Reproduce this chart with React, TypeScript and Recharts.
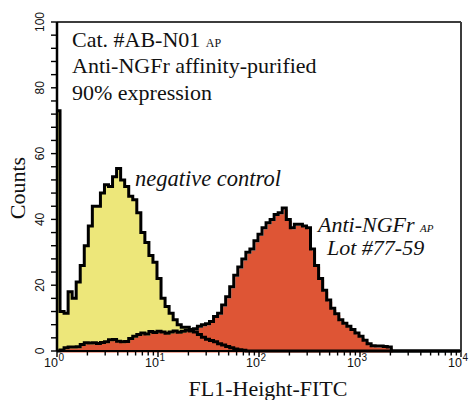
import React from 'react';
import {
  ComposedChart,
  Area,
  Line,
  XAxis,
  YAxis,
  ReferenceLine,
} from 'recharts';

// histogram bins: first bin at 10^0.03, one bin every 0.04 decade
const LOG_START = 0.03;
const LOG_STEP = 0.04;

// channel-1 pile-up of the negative control
const NEG_SPIKE = 73;

const NEG_COUNTS = [
  12, 11.5, 18, 16, 21, 26, 32, 38, 44, 44,
  48, 50.5, 50, 53, 55.5, 52, 50, 47, 46, 42,
  36, 33, 29, 27, 22, 16, 13.5, 11.5, 9.5, 8,
  7.2, 7.2, 6.5, 5.8, 5, 4.2, 3.6, 3.2, 2.8, 2.2,
  1.8, 1.4, 1, 0.6, 0.4, 0.2, 0, 0, 0, 0,
  0, 0, 0, 0, 0, 0, 0, 0, 0, 0,
  0, 0, 0, 0, 0, 0, 0, 0, 0, 0,
  0, 0, 0, 0, 0, 0, 0, 0, 0, 0,
  0, 0, 0, 0, 0, 0, 0, 0, 0, 0,
  0, 0, 0, 0, 0, 0, 0, 0, 0, 0,
];

const NGFR_COUNTS = [
  0.3, 1, 1.2, 1.2, 1.3, 2, 2.5, 2.4, 2.5, 2.3,
  2.6, 2.8, 3.4, 3.5, 3, 2.8, 2.9, 3.8, 4.5, 5,
  5.5, 5.2, 5.9, 5.6, 6, 5.8, 5.4, 5.8, 6.1, 5.7,
  6, 6.3, 6.1, 6.8, 7.5, 8, 8.3, 9, 10.5, 11.5,
  14, 16.5, 19.5, 23, 25.5, 28, 30, 31, 33.5, 35.5,
  37.5, 39, 40, 41.5, 42, 43.5, 40, 37.5, 38.5, 38.5,
  38, 37.5, 31, 26, 22, 18.5, 15.5, 13, 11.3, 9.5,
  8.4, 7.5, 6.5, 5.5, 4.5, 3.3, 2.2, 1.6, 1.5, 1.5,
  1.4, 1.2, 0, 0, 0, 0, 0, 0, 0, 0,
  0, 0, 0, 0, 0, 0, 0, 0, 0, 0,
];

const X_DECADES = [1, 10, 100, 1000, 10000];
const X_MINOR = [2, 3, 4, 5, 6, 7, 8, 9];
const Y_TICKS = [
  0, 4, 8, 12, 16, 20, 24, 28, 32, 36, 40, 44, 48, 52,
  56, 60, 64, 68, 72, 76, 80, 84, 88, 92, 96, 100,
];

const YELLOW = '#ede77a';
const ORANGE = '#de5535';
const SERIF = '"Liberation Serif", "Times New Roman", serif';
const SANS = '"Liberation Sans", Arial, sans-serif';

const data = [
  { x: 1, neg: NEG_SPIKE, ngfr: 0 },
  ...NEG_COUNTS.map((neg, i) => ({
    x: Math.pow(10, LOG_START + i * LOG_STEP),
    neg,
    ngfr: NGFR_COUNTS[i],
  })),
];

const xTicks = [
  ...X_DECADES,
  ...X_DECADES.slice(0, -1).flatMap((d) => X_MINOR.map((m) => m * d)),
].sort((a, b) => a - b);

function XTick({ x, y, payload }: any) {
  const exp = Math.log10(payload.value);
  const major = Math.abs(exp - Math.round(exp)) < 1e-6;
  return (
    <g>
      <line x1={x} x2={x} y1={y} y2={y + (major ? 6 : 4.5)} stroke="#000" strokeWidth={1.4} />
      {major && (
        <g fontFamily={SANS} fill="#111">
          <text x={x + 1} y={y + 16} fontSize={12.5} textAnchor="end">10</text>
          <text x={x + 1.5} y={y + 10} fontSize={10} textAnchor="start">{Math.round(exp)}</text>
        </g>
      )}
    </g>
  );
}

function YTick({ x, y, payload }: any) {
  const major = payload.value % 20 === 0;
  return (
    <g>
      <line x1={x - 6} x2={x} y1={y} y2={y} stroke="#000" strokeWidth={1.4} />
      {major && (
        <text
          transform={`translate(${x - 17},${y}) rotate(-90)`}
          textAnchor="middle"
          dominantBaseline="central"
          fontFamily={SANS}
          fontSize={12}
          fill="#111"
        >
          {payload.value}
        </text>
      )}
    </g>
  );
}

export default function App() {
  return (
    <div style={{ position: 'absolute', left: 0, top: 0, width: 469, height: 400, background: '#fff' }}>
      <style>{'.ngfr-fill { transform: translate(1.5px, 1.5px); }'}</style>
      <ComposedChart
        width={469}
        height={400}
        data={data}
        margin={{ top: 22, right: 8, left: 27, bottom: 19 }}
      >
        <ReferenceLine y={100} stroke="#3c3c3c" strokeWidth={2} />
        <ReferenceLine x={10000} stroke="#3c3c3c" strokeWidth={2} />
        <Area
          type="stepAfter"
          dataKey="neg"
          fill={YELLOW}
          fillOpacity={1}
          stroke="none"
          isAnimationActive={false}
        />
        <Area
          className="ngfr-fill"
          type="stepAfter"
          dataKey="ngfr"
          fill={ORANGE}
          fillOpacity={1}
          stroke="none"
          isAnimationActive={false}
        />
        <Line
          type="stepAfter"
          dataKey="neg"
          stroke="#000"
          strokeWidth={3}
          dot={false}
          isAnimationActive={false}
        />
        <Line
          type="stepAfter"
          dataKey="ngfr"
          stroke="#000"
          strokeWidth={3}
          dot={false}
          isAnimationActive={false}
        />
        <XAxis
          dataKey="x"
          type="number"
          scale="log"
          domain={[1, 10000]}
          allowDataOverflow
          ticks={xTicks}
          interval={0}
          tick={<XTick />}
          tickLine={false}
          tickSize={0}
          tickMargin={0}
          height={30}
          axisLine={{ stroke: '#000', strokeWidth: 2.2 }}
        />
        <YAxis
          type="number"
          domain={[0, 100]}
          ticks={Y_TICKS}
          interval={0}
          tick={<YTick />}
          tickLine={false}
          tickSize={0}
          tickMargin={0}
          width={30}
          axisLine={{ stroke: '#000', strokeWidth: 2.5 }}
        />
      </ComposedChart>

      <svg
        width={469}
        height={400}
        style={{ position: 'absolute', left: 0, top: 0, pointerEvents: 'none' }}
      >
        <g fontFamily={SERIF} fontSize={22} fill="#111">
          <text x={72} y={47}>
            Cat. #AB-N01 <tspan fontSize={12}>AP</tspan>
          </text>
          <text x={72} y={73}>Anti-NGFr affinity-purified</text>
          <text x={72} y={100}>90% expression</text>
          <text x={135} y={186} fontStyle="italic" fontSize={22.5}>negative control</text>
          <text x={318} y={232} fontStyle="italic">
            Anti-NGFr <tspan fontSize={11}>AP</tspan>
          </text>
          <text x={327} y={255} fontStyle="italic">Lot #77-59</text>
          <text x={268} y={396} textAnchor="middle">FL1-Height-FITC</text>
          <text transform="translate(25,188) rotate(-90)" textAnchor="middle">Counts</text>
        </g>
      </svg>
    </div>
  );
}
